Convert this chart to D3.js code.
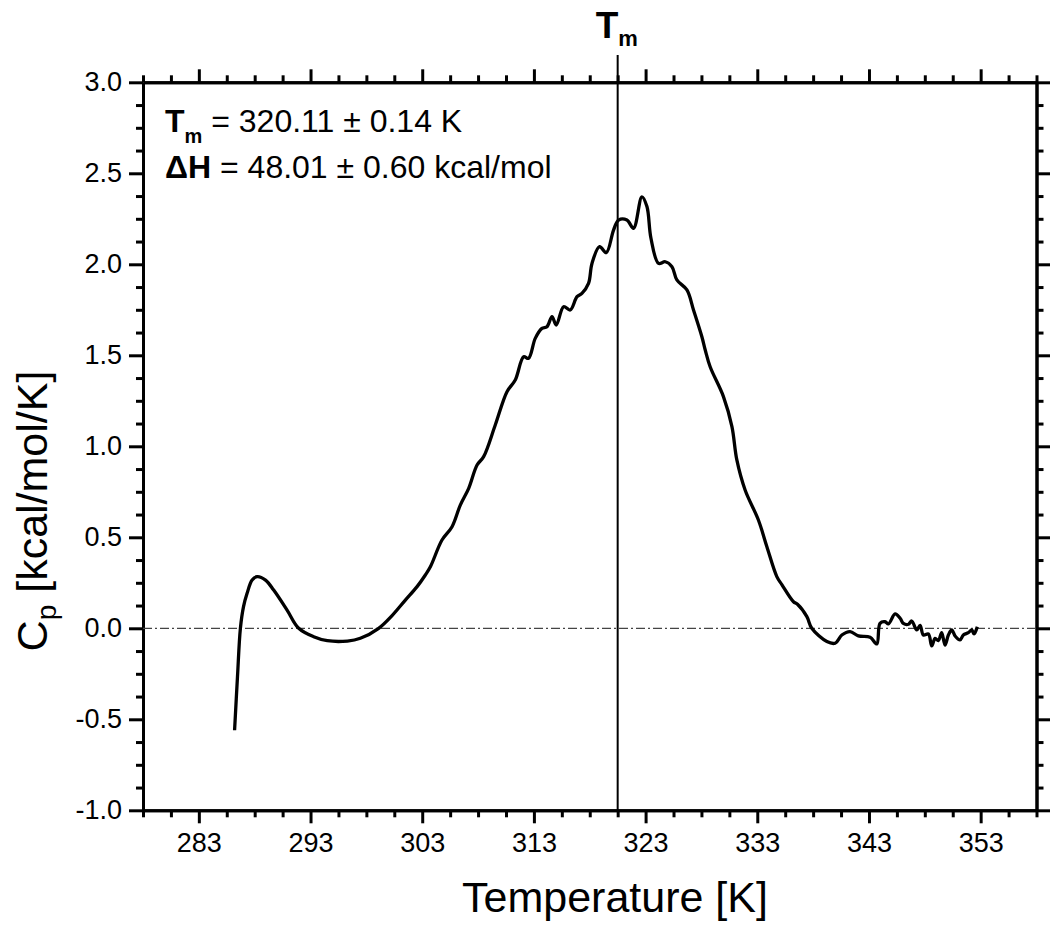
<!DOCTYPE html>
<html>
<head>
<meta charset="utf-8">
<script src="https://cdn.jsdelivr.net/npm/d3@7"></script>
<style>
  body { margin: 0; background: #fff; }
  svg { font-family: "Liberation Sans", Arial, sans-serif; }
</style>
</head>
<body>
<svg id="chart" width="1050" height="930"></svg>
<script>
// Data
const temperature = [
  286.2, 286.46, 286.72, 287.0, 287.32, 287.77, 288.22, 288.97, 289.7, 290.9,
  291.94, 293.28, 294.5, 296.3, 297.46, 299.1, 300.3, 301.49, 302.54, 303.28,
  303.73, 304.77, 305.67, 306.41, 307.16, 307.91, 308.5, 309.54, 310.59, 311.33,
  312.08, 312.52, 313.12, 313.72, 314.17, 314.62, 315.0, 315.66, 316.25, 316.86,
  317.3, 317.89, 318.2, 318.88, 319.48, 320.13, 320.58, 321.33, 321.92, 322.67,
  323.12, 323.48, 324.16, 324.76, 325.36, 325.8, 326.7, 327.29, 328.04, 328.34,
  328.78, 329.97, 330.73, 331.17, 331.91, 333.1, 333.86, 334.75, 335.2, 336.24,
  336.6, 337.44, 337.88, 339.23, 339.97, 340.57, 341.31, 342.05, 343.1, 343.7,
  343.99, 344.44, 344.74, 345.34, 345.79, 346.08, 346.53, 346.83, 347.28, 347.58,
  347.87, 348.32, 348.62, 348.92, 349.21, 349.51, 349.81, 350.11, 350.41, 350.71,
  351.15, 351.45, 351.9, 352.2, 352.41, 352.7
];
const cp = [
  -0.56, -0.266, 0.0, 0.119, 0.192, 0.265, 0.284, 0.265, 0.21, 0.10,
  0.0, -0.046, -0.068, -0.07, -0.055, 0.0, 0.07, 0.155, 0.229, 0.293,
  0.338, 0.485, 0.558, 0.677, 0.769, 0.897, 0.943, 1.117, 1.3, 1.364,
  1.492, 1.483, 1.593, 1.648, 1.657, 1.712, 1.666, 1.767, 1.749, 1.822,
  1.84, 1.895, 2.005, 2.097, 2.064, 2.188, 2.243, 2.243, 2.198, 2.371,
  2.317, 2.143, 2.005, 2.014, 1.987, 1.914, 1.859, 1.749, 1.602, 1.529,
  1.437, 1.273, 1.108, 0.925, 0.76, 0.595, 0.448, 0.284, 0.24, 0.146,
  0.132, 0.064, 0.0, -0.073, -0.082, -0.037, -0.018, -0.042, -0.049, -0.086,
  0.027, 0.036, 0.024, 0.079, 0.055, 0.027, 0.022, 0.04, -0.009, 0.016,
  -0.037, -0.031, -0.097, -0.055, -0.068, -0.024, -0.092, -0.037, -0.009, -0.042,
  -0.064, -0.037, -0.024, -0.009, -0.031, 0.009
];

// Tick labels
const xMajorTicks = [283, 293, 303, 313, 323, 333, 343, 353];
const yMajorTicks = [-1.0, -0.5, 0.0, 0.5, 1.0, 1.5, 2.0, 2.5, 3.0];

// Position of the Tm marker line and fit results
const tmLine = 320.5;
const tmText = "320.11 \u00b1 0.14 K";
const dhText = "48.01 \u00b1 0.60 kcal/mol";

const data = temperature.map((t, i) => ({ t: t, cp: cp[i] }));

const svg = d3.select("#chart");

// Scales
const x = d3.scaleLinear().domain([278, 358]).range([143, 1036.5]);
const y = d3.scaleLinear().domain([-1, 3]).range([810.3, 82.3]);

const xMinor = d3.range(278, 358.01, 2.5).filter(v => !xMajorTicks.includes(v));
const yMinor = d3.range(-1, 3.001, 0.125).filter(v => Math.abs(v * 2 - Math.round(v * 2)) > 1e-6);

function styleAxis(g) {
  g.select(".domain").attr("stroke", "#000").attr("stroke-width", 3);
  g.selectAll(".tick line").attr("stroke", "#000").attr("stroke-width", 3);
  g.selectAll("text").attr("fill", "#000").style("font-size", "27px");
}

// Bottom axis
svg.append("g")
  .attr("transform", `translate(0,${y(-1)})`)
  .call(d3.axisBottom(x).tickValues(xMinor).tickSize(7).tickSizeOuter(0).tickFormat(""))
  .call(styleAxis);
svg.append("g")
  .attr("transform", `translate(0,${y(-1)})`)
  .call(d3.axisBottom(x).tickValues(xMajorTicks).tickSize(13).tickSizeOuter(0).tickPadding(10).tickFormat(d => String(d)))
  .call(styleAxis);

// Top axis (no labels)
svg.append("g")
  .attr("transform", `translate(0,${y(3)})`)
  .call(d3.axisTop(x).tickValues(xMinor).tickSize(7).tickSizeOuter(0).tickFormat(""))
  .call(styleAxis);
svg.append("g")
  .attr("transform", `translate(0,${y(3)})`)
  .call(d3.axisTop(x).tickValues(xMajorTicks).tickSize(13).tickSizeOuter(0).tickFormat(""))
  .call(styleAxis);

// Left axis
svg.append("g")
  .attr("transform", `translate(${x(278)},0)`)
  .call(d3.axisLeft(y).tickValues(yMinor).tickSize(7).tickSizeOuter(0).tickFormat(""))
  .call(styleAxis);
svg.append("g")
  .attr("transform", `translate(${x(278)},0)`)
  .call(d3.axisLeft(y).tickValues(yMajorTicks).tickSize(14).tickSizeOuter(0).tickPadding(7).tickFormat(d => d.toFixed(1)))
  .call(styleAxis);

// Right axis (no labels)
svg.append("g")
  .attr("transform", `translate(${x(358)},0)`)
  .call(d3.axisRight(y).tickValues(yMinor).tickSize(7).tickSizeOuter(0).tickFormat(""))
  .call(styleAxis);
svg.append("g")
  .attr("transform", `translate(${x(358)},0)`)
  .call(d3.axisRight(y).tickValues(yMajorTicks).tickSize(14).tickSizeOuter(0).tickFormat(""))
  .call(styleAxis);

// Zero baseline (dash-dot)
svg.append("line")
  .attr("x1", x(278)).attr("x2", x(358))
  .attr("y1", y(0)).attr("y2", y(0))
  .attr("stroke", "#444")
  .attr("stroke-width", 1.2)
  .attr("stroke-dasharray", "9,3,2,3");

// Tm vertical line, sticks out above the frame
svg.append("line")
  .attr("x1", x(tmLine)).attr("x2", x(tmLine))
  .attr("y1", 55).attr("y2", y(-1))
  .attr("stroke", "#000")
  .attr("stroke-width", 2);

const tmLabel = svg.append("text")
  .attr("x", x(tmLine) - 22)
  .attr("y", 38)
  .attr("font-weight", "bold");
tmLabel.append("tspan").style("font-size", "37px").text("T");
tmLabel.append("tspan").style("font-size", "22px").attr("dy", 8).text("m");

// The Cp curve
const line = d3.line()
  .x(d => x(d.t))
  .y(d => y(d.cp))
  .curve(d3.curveCatmullRom.alpha(0.5));

svg.append("path")
  .datum(data)
  .attr("fill", "none")
  .attr("stroke", "#000")
  .attr("stroke-width", 3.3)
  .attr("stroke-linejoin", "round")
  .attr("d", line);

// Fit annotation
const ann1 = svg.append("text").attr("x", 165).attr("y", 131.5).style("font-size", "32px");
ann1.append("tspan").attr("font-weight", "bold").text("T");
ann1.append("tspan").attr("font-weight", "bold").style("font-size", "20px").attr("dy", 11).text("m");
ann1.append("tspan").attr("dy", -11).text(" = " + tmText);

const ann2 = svg.append("text").attr("x", 165).attr("y", 178).style("font-size", "32px");
ann2.append("tspan").attr("font-weight", "bold").text("\u0394H");
ann2.append("tspan").text(" = " + dhText);

// Axis titles
svg.append("text")
  .attr("x", 615)
  .attr("y", 912)
  .attr("text-anchor", "middle")
  .style("font-size", "43px")
  .text("Temperature [K]");

const yTitle = svg.append("text")
  .attr("transform", "translate(47,511) rotate(-90)")
  .attr("text-anchor", "middle")
  .style("font-size", "43px");
yTitle.append("tspan").text("C");
yTitle.append("tspan").style("font-size", "28px").attr("dy", 9).text("p");
yTitle.append("tspan").attr("dy", -9).text(" [kcal/mol/K]");
</script>
</body>
</html>
